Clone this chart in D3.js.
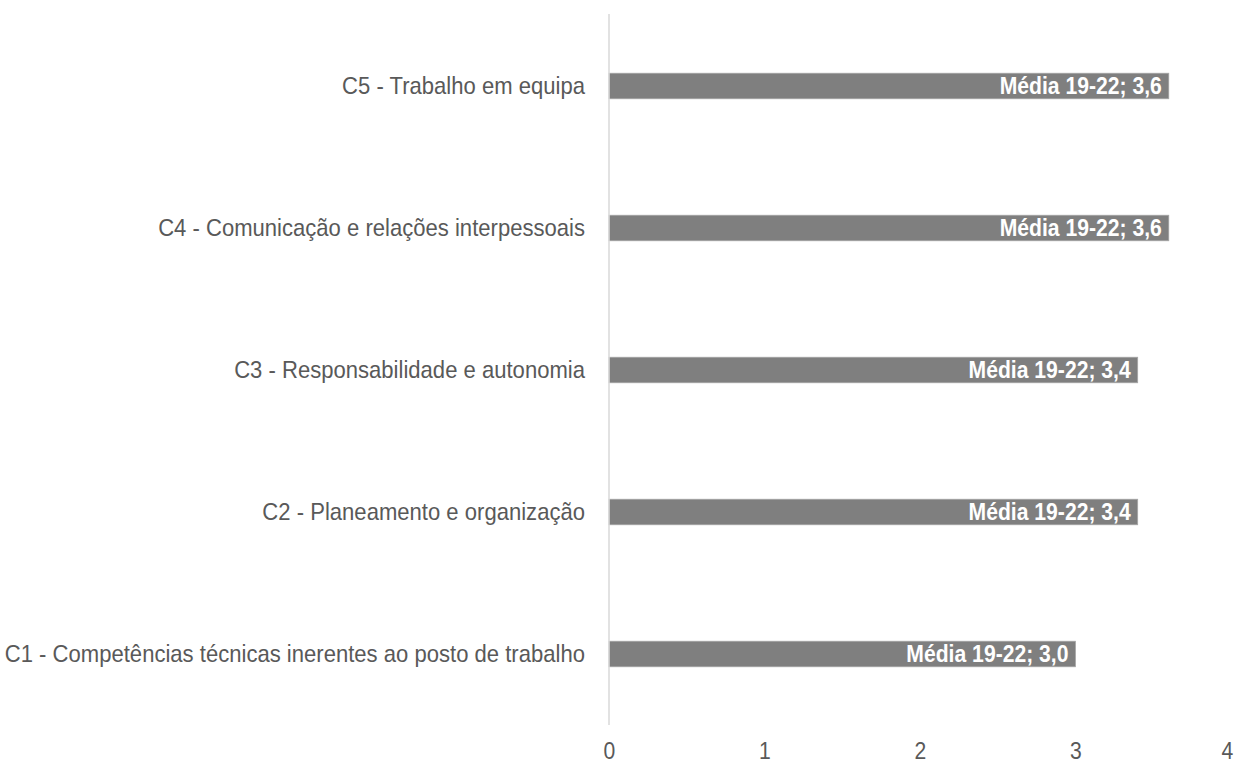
<!DOCTYPE html>
<html>
<head>
<meta charset="utf-8">
<script src="https://cdn.jsdelivr.net/npm/d3@7"></script>
<style>
  body { margin: 0; background: #fff; }
  text { font-family: "Liberation Sans Narrow", "Arial Narrow", "Liberation Sans", Arial, sans-serif; }
</style>
</head>
<body>
<div id="vis"></div>
<script>
// dados
const categorias = [
  "C5 - Trabalho em equipa",
  "C4 - Comunicação e relações interpessoais",
  "C3 - Responsabilidade e autonomia",
  "C2 - Planeamento e organização",
  "C1 - Competências técnicas inerentes ao posto de trabalho"
];
const valores = [3.6, 3.6, 3.4, 3.4, 3.0];
const serieNome = "Média 19-22";
const ticks = [0, 1, 2, 3, 4];

const WIDTH = 1241;
const HEIGHT = 764;
const encolher = 0.92; // a fonte original é mais estreita

const svg = d3.select("#vis")
  .append("svg")
  .attr("width", WIDTH)
  .attr("height", HEIGHT);

const x = d3.scaleLinear().domain([0, 4]).range([609, 1231]);
const y = d3.scaleBand().domain(categorias).range([15, 725]).paddingInner(0.82).paddingOuter(0.41);

// barras
svg.selectAll("rect.barra")
  .data(categorias)
  .join("rect")
  .attr("class", "barra")
  .attr("x", x(0))
  .attr("y", d => y(d))
  .attr("width", (d, i) => x(valores[i]) - x(0))
  .attr("height", y.bandwidth())
  .attr("fill", "#7f7f7f")
  .attr("stroke", "#a6a6a6")
  .attr("stroke-width", 0.75);

// linha do eixo vertical
svg.append("line")
  .attr("x1", x(0)).attr("x2", x(0))
  .attr("y1", 14).attr("y2", 725)
  .attr("stroke", "#d9d9d9")
  .attr("stroke-width", 1.5);

// rótulos das categorias
svg.selectAll("text.cat")
  .data(categorias)
  .join("text")
  .attr("class", "cat")
  .attr("transform", d => `translate(585,${y(d) + y.bandwidth() / 2}) scale(${encolher},1)`)
  .attr("dy", "0.35em")
  .attr("text-anchor", "end")
  .attr("fill", "#595959")
  .style("font-size", "24px")
  .text(d => d);

// rótulos dos dados
svg.selectAll("text.valor")
  .data(categorias)
  .join("text")
  .attr("class", "valor")
  .attr("transform", (d, i) => `translate(${x(valores[i]) - 7},${y(d) + y.bandwidth() / 2}) scale(${encolher},1)`)
  .attr("dy", "0.36em")
  .attr("text-anchor", "end")
  .attr("fill", "#ffffff")
  .style("font-size", "23px")
  .style("font-weight", "bold")
  .text((d, i) => serieNome + "; " + d3.format(".1f")(valores[i]).replace(".", ","));

// eixo x
const eixo = svg.append("g")
  .attr("transform", "translate(0,743)")
  .call(d3.axisBottom(x).tickValues(ticks).tickFormat(d3.format("d")).tickSize(0).tickPadding(0));
eixo.select(".domain").remove();
eixo.selectAll(".tick text")
  .attr("fill", "#595959")
  .attr("dy", "0.71em")
  .attr("transform", `scale(${encolher},1)`)
  .style("font-size", "23px");
eixo.selectAll(".tick").filter(d => d === 4).select("text").attr("dx", "-0.2em");
</script>
</body>
</html>
